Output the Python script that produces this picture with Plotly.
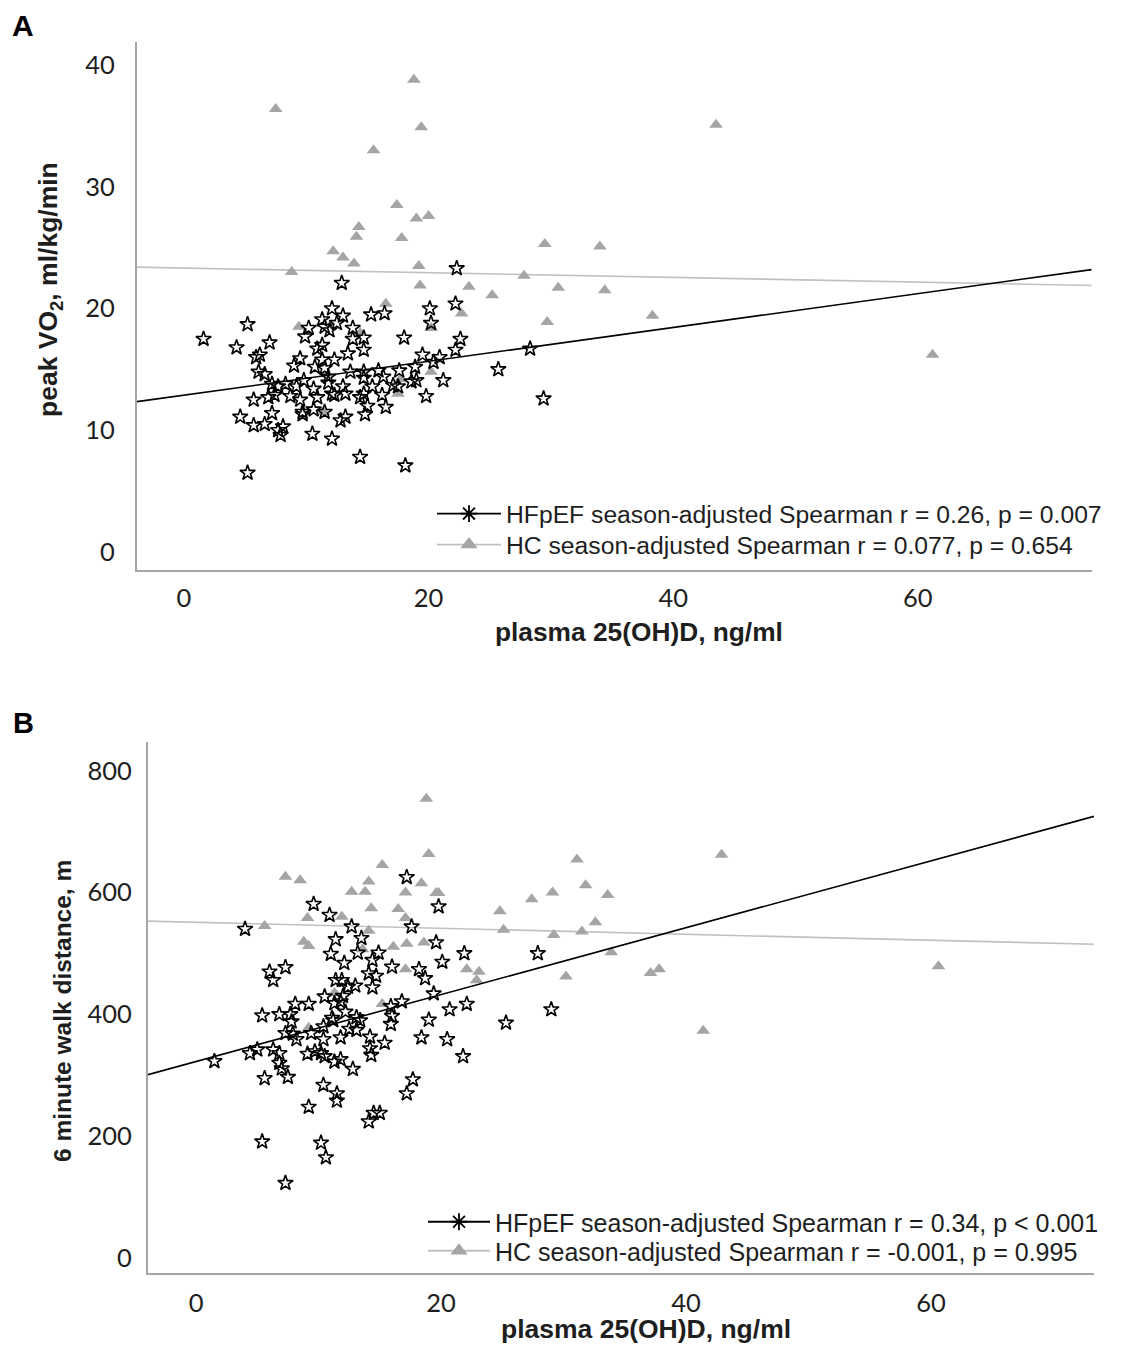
import plotly.graph_objects as go

# ---------------- DATA: panel A (peak VO2) ----------------
hfpef_a_x = [12.9, 12.1, 13.0, 15.3, 16.4, 20.1, 22.2, 5.2, 11.3, 10.2, 11.5, 12.5, 11.9, 13.8, 20.2,
             1.6, 4.3, 7.0, 9.9, 13.8, 14.7, 18.0, 22.6, 5.9, 6.2, 9.5, 10.9, 11.3, 13.4, 14.7, 22.2,
             9.0, 10.7, 11.3, 12.3, 19.5, 20.9, 6.1, 6.6, 11.5, 11.8, 13.6, 14.7, 15.9, 17.6, 18.9,
             20.4, 25.7, 7.2, 7.7, 8.3, 9.2, 9.8, 11.8, 13.0, 14.7, 16.3, 17.1, 17.5, 18.6, 19.0,
             21.2, 5.7, 6.9, 7.4, 8.7, 9.5, 10.6, 10.9, 12.1, 12.3, 13.2, 14.4, 14.7, 15.4, 16.2,
             19.8, 4.6, 7.2, 9.7, 9.7, 10.6, 11.5, 15.0, 16.5, 14.8, 5.7, 6.6, 7.7, 8.1, 7.9, 12.8,
             13.2, 10.5, 12.1, 14.4, 18.1, 5.2, 22.3, 28.3, 29.4]
hfpef_a_y = [22.1, 20.0, 19.4, 19.5, 19.6, 20.0, 20.4, 18.7, 19.1, 18.4, 18.5, 18.8, 18.2, 18.4, 18.8,
             17.5, 16.8, 17.2, 17.7, 17.5, 17.6, 17.6, 17.5, 16.0, 16.2, 15.9, 16.7, 17.0, 16.3, 16.6, 16.6,
             15.3, 15.2, 15.8, 15.8, 16.2, 16.0, 14.8, 14.6, 15.1, 14.4, 14.8, 14.8, 14.9, 14.9, 15.2,
             15.6, 15.0, 13.8, 13.6, 13.8, 13.6, 14.1, 13.9, 13.6, 14.3, 14.4, 13.7, 13.6, 14.0, 14.1,
             14.1, 12.5, 12.7, 12.9, 12.8, 12.5, 13.4, 12.7, 13.0, 12.9, 13.0, 12.7, 13.0, 13.6, 12.9,
             12.8, 11.1, 11.4, 11.5, 11.3, 11.7, 11.5, 12.0, 11.9, 11.3, 10.4, 10.5, 10.0, 10.3, 9.6, 10.8,
             11.1, 9.7, 9.3, 7.8, 7.1, 6.5, 23.3, 16.7, 12.6]
hc_a_x = [18.8, 7.5, 19.4, 15.5, 17.4, 19.0, 20.0, 14.3, 14.1, 17.8, 12.2, 13.0, 13.9, 8.8, 19.2,
          19.3, 23.3, 25.2, 27.8, 16.5, 22.7, 9.4, 20.2, 14.4, 20.2, 17.7, 17.5, 11.4, 29.5, 30.6,
          29.7, 34.0, 34.4, 38.3, 43.5, 61.2]
hc_a_y = [38.8, 36.4, 34.9, 33.0, 28.5, 27.4, 27.6, 26.7, 25.9, 25.8, 24.7, 24.2, 23.7, 23.0, 23.5,
          21.9, 21.8, 21.1, 22.7, 20.4, 19.6, 18.5, 18.4, 18.0, 14.8, 14.2, 13.0, 11.5, 25.3, 21.7,
          18.9, 25.1, 21.5, 19.4, 35.1, 16.2]
trend_a_x = [-3.84, 74.2]
trend_hfpef_a_y = [12.35, 23.2]
trend_hc_a_y = [23.4, 21.9]

# ---------------- DATA: panel B (6 minute walk distance) ----------------
hfpef_b_x = [17.2, 9.6, 10.9, 19.8, 4.0, 12.7, 17.6, 11.4, 13.5, 19.6, 21.9, 11.0, 13.2, 14.9, 14.4,
             12.1, 16.0, 20.1, 7.3, 6.0, 6.3, 18.2, 18.7, 14.1, 14.7, 14.4, 11.4, 11.9, 12.4, 13.0,
             19.4, 10.5, 12.0, 11.8, 11.3, 8.1, 9.2, 15.9, 16.8, 20.7, 22.1, 12.2, 5.4, 6.8, 7.7,
             7.8, 11.1, 11.2, 13.1, 13.4, 16.0, 15.9, 19.0, 10.4, 12.5, 13.1, 7.3, 7.9, 9.4, 8.2,
             10.4, 11.8, 14.2, 18.4, 20.5, 15.4, 4.4, 5.0, 6.3, 6.8, 9.1, 9.7, 10.2, 10.5, 14.2,
             14.3, 11.8, 11.3, 21.8, 6.8, 7.0, 12.8, 5.6, 7.5, 17.7, 10.4, 1.5, 11.5, 11.5, 9.2,
             14.1, 14.5, 15.0, 5.4, 10.2, 10.6, 7.3, 27.9, 29.0, 25.3, 17.2]
hfpef_b_y = [625, 581, 563, 577, 540, 544, 544, 523, 525, 518, 500, 499, 501, 501, 489,
             484, 478, 486, 477, 470, 456, 474, 459, 467, 463, 444, 456, 456, 445, 447,
             434, 429, 430, 421, 418, 417, 417, 413, 421, 408, 417, 404, 398, 400, 400,
             388, 394, 390, 395, 390, 397, 384, 391, 380, 376, 374, 369, 368, 369, 359,
             359, 362, 363, 362, 359, 353, 336, 342, 342, 336, 335, 339, 336, 331, 344,
             333, 326, 322, 331, 320, 311, 310, 295, 297, 293, 284, 323, 270, 258, 248,
             224, 238, 238, 191, 189, 165, 123, 500, 408, 386, 270]
hc_b_x = [18.8, 19.0, 31.1, 42.9, 15.2, 7.3, 8.5, 14.1, 18.4, 12.7, 13.8, 17.1, 19.6, 19.8, 31.8,
          29.1, 27.4, 33.6, 14.3, 16.5, 24.8, 9.1, 11.9, 17.1, 32.6, 5.6, 14.1, 25.1, 29.2, 31.5,
          8.8, 9.2, 16.1, 17.2, 18.6, 13.6, 33.9, 17.1, 22.1, 23.1, 22.9, 30.2, 37.1, 37.8, 60.6,
          11.3, 15.2, 9.2, 41.4]
hc_b_y = [754, 663, 654, 662, 645, 626, 620, 618, 615, 601, 601, 600, 599, 599, 612,
          600, 589, 596, 574, 573, 569, 558, 560, 558, 551, 545, 537, 539, 530, 536,
          519, 512, 511, 516, 518, 507, 502, 474, 474, 470, 456, 462, 468, 474, 479,
          435, 417, 378, 373]
trend_b_x = [-3.92, 73.3]
trend_hfpef_b_y = [301, 725]
trend_hc_b_y = [553, 515]

legend_a = ["HFpEF season-adjusted Spearman r = 0.26, p = 0.007",
            "HC season-adjusted Spearman r = 0.077, p = 0.654"]
legend_b = ["HFpEF season-adjusted Spearman r = 0.34, p < 0.001",
            "HC season-adjusted Spearman r = -0.001, p = 0.995"]

x_ticks = [0, 20, 40, 60]
y_ticks_a = [0, 10, 20, 30, 40]
y_ticks_b = [0, 200, 400, 600, 800]

# ---------------- STYLE / LAYOUT ----------------
PAGE_OFF = 8            # default body margin of the html page
W, H = 1105, 1337       # figure size so that page = 1121 x 1353
STAR = "#000000"
TRI = "#a5a5a5"
HC_LINE = "#c0c0c0"
AXIS = "#a6a6a6"
TXT = "#1e1e1e"


def fx(p):
    """page pixel x -> paper fraction"""
    return (p - PAGE_OFF) / W


def fy(p):
    """page pixel y -> paper fraction"""
    return 1 - (p - PAGE_OFF) / H


fig = go.Figure()


def add_panel(xa, ya, hx, hy, cx, cy, tx, thf, thc, names, legends):
    fig.add_trace(go.Scatter(x=tx, y=thc, mode="lines", line=dict(color=HC_LINE, width=1.6),
                             xaxis=xa, yaxis=ya, showlegend=False, hoverinfo="skip"))
    fig.add_trace(go.Scatter(x=cx, y=cy, mode="markers", xaxis=xa, yaxis=ya, showlegend=False,
                             marker=dict(symbol="triangle-up", size=12, color=TRI, line=dict(width=0))))
    fig.add_trace(go.Scatter(x=hx, y=hy, mode="markers", xaxis=xa, yaxis=ya, showlegend=False,
                             marker=dict(symbol="star-open", size=11.5, color=STAR,
                                         line=dict(width=1.6, color=STAR))))
    fig.add_trace(go.Scatter(x=tx, y=thf, mode="lines", line=dict(color="#000000", width=1.6),
                             xaxis=xa, yaxis=ya, showlegend=False, hoverinfo="skip"))
    # legend-only entries
    fig.add_trace(go.Scatter(x=[None], y=[None], mode="lines+markers", name=names[0], xaxis=xa, yaxis=ya,
                             legend=legends[0], line=dict(color="#000000", width=1.8),
                             marker=dict(symbol="asterisk-open", size=14, color="#000000",
                                         line=dict(width=1.8, color="#000000"))))
    fig.add_trace(go.Scatter(x=[None], y=[None], mode="lines+markers", name=names[1], xaxis=xa, yaxis=ya,
                             legend=legends[1], line=dict(color=HC_LINE, width=1.8),
                             marker=dict(symbol="triangle-up", size=15, color=TRI)))


add_panel("x", "y", hfpef_a_x, hfpef_a_y, hc_a_x, hc_a_y, trend_a_x, trend_hfpef_a_y, trend_hc_a_y,
          legend_a, ["legend", "legend2"])
add_panel("x2", "y2", hfpef_b_x, hfpef_b_y, hc_b_x, hc_b_y, trend_b_x, trend_hfpef_b_y, trend_hc_b_y,
          legend_b, ["legend3", "legend4"])

axis_common = dict(showgrid=False, zeroline=False, showline=True, linecolor=AXIS, linewidth=2,
                   ticks="", mirror=False)
tick_font = dict(family="Lato", size=25.5, color=TXT)


def leg(xpx, ypx, size, width):
    return dict(x=fx(xpx), y=fy(ypx), xanchor="left", yanchor="middle", bgcolor="rgba(0,0,0,0)",
                font=dict(family="Liberation Sans", size=size, color=TXT), itemwidth=width,
                borderwidth=0)


fig.update_layout(
    width=W, height=H,
    margin=dict(l=0, r=0, t=0, b=0),
    paper_bgcolor="white", plot_bgcolor="white",
    xaxis=dict(domain=[fx(137), fx(1092)], range=[-3.84, 74.24], tickvals=x_ticks, anchor="y",
               tickfont=tick_font, ticklabelstandoff=4, **axis_common),
    yaxis=dict(domain=[fy(570), fy(42)], range=[-1.48, 41.9], tickvals=y_ticks_a, anchor="x",
               tickfont=tick_font, ticklabelstandoff=15, **axis_common),
    xaxis2=dict(domain=[fx(148), fx(1094)], range=[-3.92, 73.3], tickvals=x_ticks, anchor="y2",
                tickfont=tick_font, ticklabelstandoff=6, **axis_common),
    yaxis2=dict(domain=[fy(1273), fy(742)], range=[-24.6, 847], tickvals=y_ticks_b, anchor="x2",
                tickfont=tick_font, ticklabelstandoff=9, **axis_common),
    legend=leg(432, 514, 24.7, 64),
    legend2=leg(432, 545, 24.7, 64),
    legend3=leg(423, 1222, 25, 62),
    legend4=leg(423, 1251, 25, 62),
    showlegend=True,
)

annotations = [
    dict(text="<b>A</b>", x=fx(23), y=1, yanchor="top", borderpad=0,
         font=dict(family="Liberation Sans", size=30, color="#000")),
    dict(text="<b>B</b>", x=fx(23), y=fy(723), yanchor="middle",
         font=dict(family="Liberation Sans", size=29, color="#000")),
    dict(text="<b>plasma 25(OH)D, ng/ml</b>", x=fx(639), y=fy(632), yanchor="middle",
         font=dict(family="Liberation Sans", size=26.3, color=TXT)),
    dict(text="<b>plasma 25(OH)D, ng/ml</b>", x=fx(646), y=0, yanchor="bottom", borderpad=0,
         font=dict(family="Liberation Sans", size=26.5, color=TXT)),
    dict(text="<b>peak VO<sub>2</sub>, ml/kg/min</b>", x=fx(50), y=fy(290), textangle=-90, yanchor="middle",
         font=dict(family="Liberation Sans", size=26.5, color=TXT)),
    dict(text="<b>6 minute walk distance, m</b>", x=fx(62), y=fy(1011), textangle=-90, yanchor="middle",
         font=dict(family="Liberation Sans", size=24.5, color=TXT)),
]
for a in annotations:
    a.update(xref="paper", yref="paper", showarrow=False, xanchor="center")
fig.update_layout(annotations=annotations)

fig.write_html("out.html")
